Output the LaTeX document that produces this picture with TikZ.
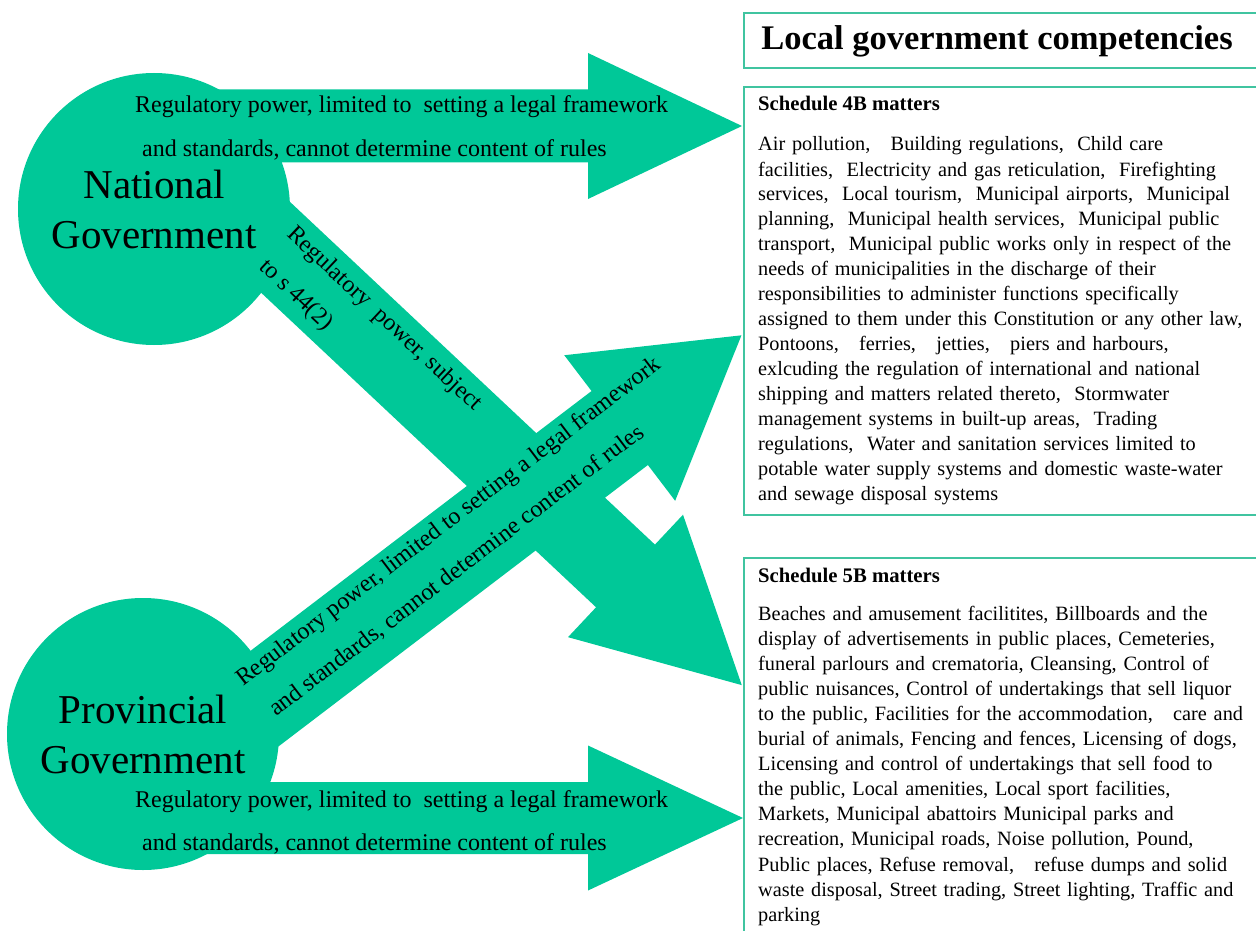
\documentclass[tikz,border=0pt]{standalone}
\usepackage{fontspec}
\setmainfont{Liberation Serif}
\definecolor{arrowgreen}{RGB}{0,200,152}
\definecolor{boxline}{RGB}{64,196,160}
\tikzset{
  govcircle/.style={circle, fill=arrowgreen, minimum size=272pt, inner sep=0pt, align=center,
    font=\fontsize{41}{50}\selectfont},
  arrowtext/.style={anchor=base west, inner sep=0pt, font=\fontsize{24}{28}\selectfont},
  framebox/.style={draw=boxline, line width=2pt, anchor=north west, inner sep=0pt},
  titletext/.style={anchor=base, inner sep=0pt, font=\bfseries\fontsize{34.5}{40}\selectfont},
  headtext/.style={anchor=base west, inner sep=0pt, font=\bfseries\fontsize{20.7}{25}\selectfont},
  bodytext/.style={anchor=base west, inner sep=0pt, text width=520pt, align=left},
}
% #1 start, #2 angle, #3 total length, #4 shaft half width, #5 head half width, #6 head length
\newcommand{\blockarrow}[6]{%
  \begin{scope}[shift={(#1)}, rotate=#2]
    \fill[arrowgreen] (0,#4) -- ({#3-#6},#4) -- ({#3-#6},#5) -- (#3,0)
      -- ({#3-#6},-#5) -- ({#3-#6},-#4) -- (0,-#4) -- cycle;
  \end{scope}}
\begin{document}
\begin{tikzpicture}[x=1pt, y=-1pt]
\useasboundingbox (0,0) rectangle (1256,931);

% boxes on the right
\node[framebox, minimum width=515pt, minimum height=55pt] (title) at (743,12) {};
\node[framebox, minimum width=515pt, minimum height=428pt] (s4b) at (743,86) {};
\node[framebox, minimum width=515pt, minimum height=390pt] (s5b) at (743,557) {};

% block arrows
\blockarrow{154,126}{0}{588}{36.5}{73}{154}
\blockarrow{143,818}{0}{600}{36}{72.5}{155}
\blockarrow{206,182}{-43.2}{735}{43}{84}{159.5}
\blockarrow{222,731}{37.3}{653}{46.5}{91.5}{153}

% government circles
\node[govcircle] (nat) at (154,209) {National\\Government};
\node[govcircle] (prov) at (143,734) {Provincial\\Government};

% arrow texts
\node[arrowtext] (ta1) at (135,113) {Regulatory power, limited to\ \ setting a legal framework};
\node[arrowtext] (ta2) at (142,157) {and standards, cannot determine content of rules};
\node[arrowtext] (tb1) at (135,807) {Regulatory power, limited to\ \ setting a legal framework};
\node[arrowtext] (tb2) at (142,850) {and standards, cannot determine content of rules};
\node[arrowtext, rotate=-43.2] (td1) at (286,235) {Regulatory\ \ power, subject};
\node[arrowtext, rotate=-43.2] (td2) at (258,268) {to s 44(2)};
\node[arrowtext, rotate=37.3] (tu1) at (243,687) {Regulatory power, limited to setting a legal framework};
\node[arrowtext, rotate=37.3] (tu2) at (276,717) {and standards, cannot determine content of rules};

% box texts
\node[titletext] (titletxt) at (997,50) {Local government competencies};
\node[headtext] (h4) at (758,111) {Schedule 4B matters};
\node[bodytext, font=\fontsize{20.3}{25}\selectfont] (b4) at (758,151) {%
Air pollution,\ \ \ Building regulations,\ \ Child care\\
facilities,\ \ Electricity and gas reticulation,\ \ Firefighting\\
services,\ \ Local tourism,\ \ Municipal airports,\ \ Municipal\\
planning,\ \ Municipal health services,\ \ Municipal public\\
transport,\ \ Municipal public works only in respect of the\\
needs of municipalities in the discharge of their\\
responsibilities to administer functions specifically\\
assigned to them under this Constitution or any other law,\\
Pontoons,\ \ \ ferries,\ \ \ jetties,\ \ \ piers and harbours,\\
exlcuding the regulation of international and national\\
shipping and matters related thereto,\ \ Stormwater\\
management systems in built-up areas,\ \ Trading\\
regulations,\ \ Water and sanitation services limited to\\
potable water supply systems and domestic waste-water\\
and sewage disposal systems};
\node[headtext] (h5) at (758,582) {Schedule 5B matters};
\node[bodytext, font=\fontsize{20.3}{25.1}\selectfont] (b5) at (758,620) {%
Beaches and amusement facilitites, Billboards and the\\
display of advertisements in public places, Cemeteries,\\
funeral parlours and crematoria, Cleansing, Control of\\
public nuisances, Control of undertakings that sell liquor\\
to the public, Facilities for the accommodation,\ \ \ care and\\
burial of animals, Fencing and fences, Licensing of dogs,\\
Licensing and control of undertakings that sell food to\\
the public, Local amenities, Local sport facilities,\\
Markets, Municipal abattoirs Municipal parks and\\
recreation, Municipal roads, Noise pollution, Pound,\\
Public places, Refuse removal,\ \ \ refuse dumps and solid\\
waste disposal, Street trading, Street lighting, Traffic and\\
parking};
\end{tikzpicture}
\end{document}
